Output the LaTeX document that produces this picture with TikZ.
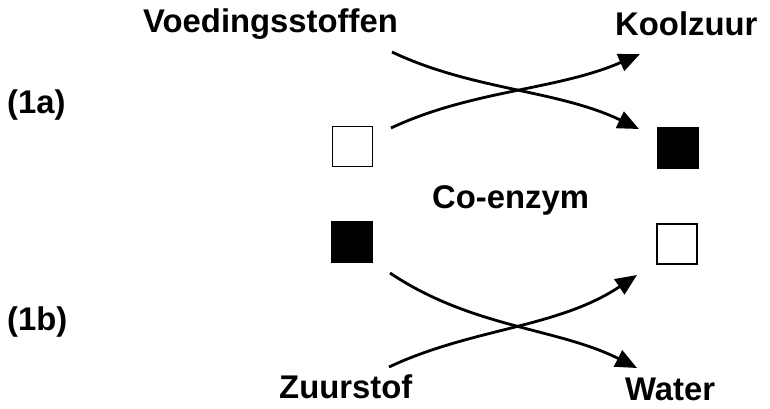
\documentclass[tikz,border=0pt]{standalone}
\usepackage{fontspec}
\setmainfont{Liberation Sans}
\usepackage{tikz}
\usetikzlibrary{arrows.meta}

\begin{document}
\begin{tikzpicture}[
  x=0.03cm, y=-0.03cm,
  font=\fontsize{28}{32}\selectfont\bfseries,
  label/.style={anchor=base west, inner sep=0pt},
  carrier/.style={draw, line width=1.6pt, minimum size=1.2cm, inner sep=0pt},
  free/.style={carrier, fill=white},
  bound/.style={carrier, fill=black},
  flow/.style={line width=2.4pt, -{Triangle[length=0.64cm, width=0.54cm]}}
]
\useasboundingbox (0,0) rectangle (770,408);

% labels
\node[label] (voeding) at (143,32) {Voedingsstoffen};
\node[label] (koolzuur) at (615,35) {Koolzuur};
\node[label] (stap1a) at (7,113) {(1a)};
\node[label] (stap1b) at (7,330) {(1b)};
\node[label] (coenzym) at (432,208) {Co-enzym};
\node[label] (zuurstof) at (279,398) {Zuurstof};
\node[label] (water) at (625,400) {Water};

% co-enzym, free and bound
\node[free] (co1) at (352.5,146.5) {};
\node[bound] (co2) at (678,148) {};
\node[bound] (co3) at (352,242) {};
\node[free] (co4) at (677,244) {};

% ends of the crossing arrows
\coordinate (a1) at (392,52);
\coordinate (a2) at (639,129);
\coordinate (b1) at (391,128);
\coordinate (b2) at (640,54);
\coordinate (c1) at (390,273);
\coordinate (c2) at (637,368);
\coordinate (d1) at (389,367);
\coordinate (d2) at (637,275);

\draw[flow] (a1) .. controls (472,90) and (558,90) .. (a2);
\draw[flow] (b1) .. controls (472,90) and (558,90) .. (b2);
\draw[flow] (c1) .. controls (472,328) and (558,328) .. (c2);
\draw[flow] (d1) .. controls (472,328) and (558,328) .. (d2);
\end{tikzpicture}
\end{document}
